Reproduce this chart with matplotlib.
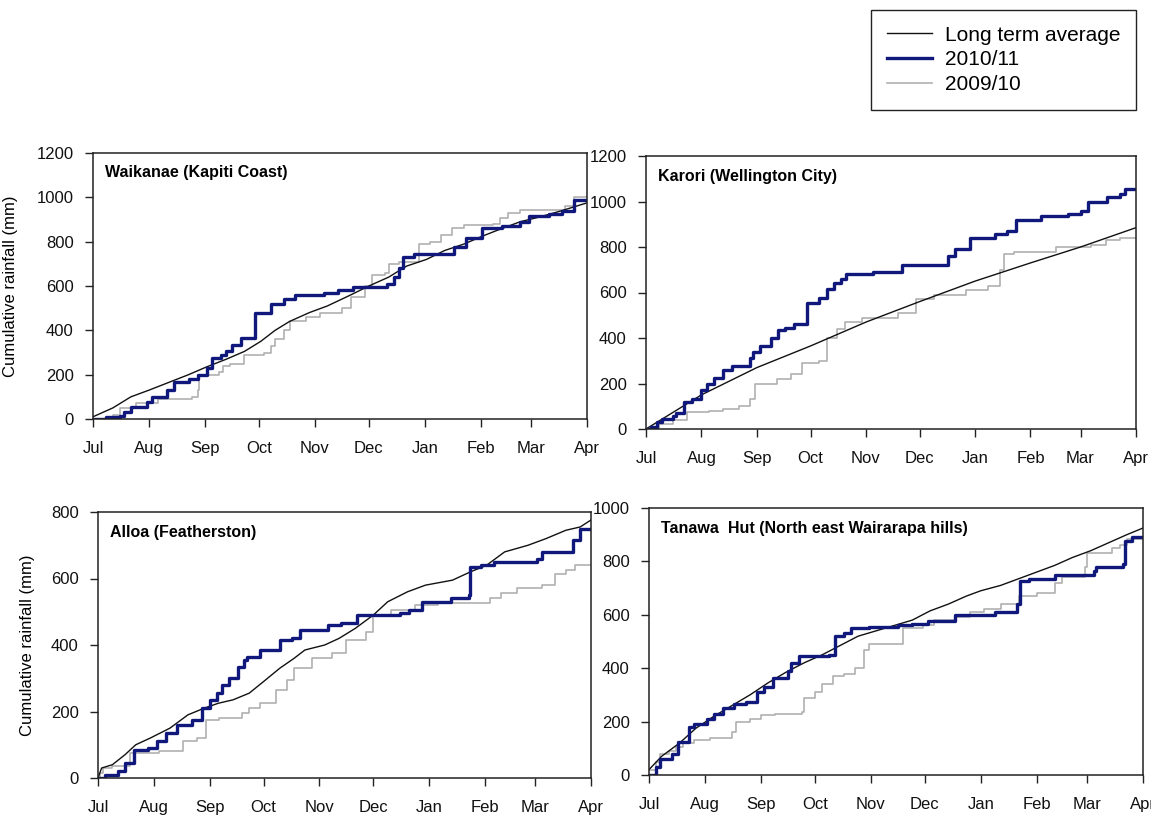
import numpy as np
import matplotlib
matplotlib.use("Agg")
import matplotlib.pyplot as plt

plt.rcParams["font.family"] = ["Liberation Sans Narrow", "Liberation Sans", "DejaVu Sans"]

# Month axis: Jul 1 through Apr 1, x measured in days since Jul 1
MONTHS = ["Jul", "Aug", "Sep", "Oct", "Nov", "Dec", "Jan", "Feb", "Mar", "Apr"]
MONTH_LENGTHS = [31, 31, 30, 31, 30, 31, 31, 28, 31]

# Cumulative rainfall (mm) as (day, mm) pairs
waikanae_avg = [(0, 10), (11, 50), (21, 100), (31, 130), (42, 165), (53, 200), (63, 235), (74, 270),
                (84, 305), (93, 350), (101, 400), (109, 440), (120, 480), (130, 510), (143, 560),
                (153, 600), (164, 640), (174, 690), (185, 720), (195, 760), (206, 790), (216, 825),
                (227, 860), (237, 890), (247, 910), (258, 935), (274, 975)]
waikanae_1011 = [(0, 0), (7, 8), (15, 15), (17, 30), (21, 55), (30, 75), (33, 100), (41, 130),
                 (45, 165), (53, 180), (58, 200), (63, 230), (66, 275), (71, 290), (74, 305),
                 (77, 335), (82, 365), (90, 480), (99, 520), (106, 540), (112, 560), (128, 570),
                 (136, 580), (144, 595), (163, 610), (167, 640), (170, 680), (172, 730), (178, 745),
                 (200, 775), (207, 815), (216, 860), (227, 870), (237, 890), (242, 915), (253, 925),
                 (260, 940), (267, 990), (274, 990)]
waikanae_0910 = [(0, 0), (11, 20), (15, 50), (24, 70), (36, 90), (55, 100), (58, 130), (59, 200),
                 (70, 210), (72, 240), (76, 250), (84, 290), (95, 300), (99, 330), (101, 360),
                 (106, 400), (109, 440), (118, 460), (126, 480), (138, 500), (143, 550), (151, 600),
                 (155, 650), (162, 660), (164, 700), (170, 710), (181, 790), (187, 800), (193, 830),
                 (199, 860), (206, 875), (222, 880), (226, 905), (230, 930), (237, 945), (262, 960),
                 (267, 1000), (274, 1005)]

karori_avg = [(0, 0), (31, 150), (62, 270), (92, 365), (123, 470), (153, 560), (184, 650),
              (215, 730), (243, 800), (274, 885)]
karori_1011 = [(0, 0), (3, 10), (6, 30), (9, 45), (15, 55), (17, 70), (21, 120), (26, 130),
               (31, 170), (34, 200), (38, 225), (43, 260), (48, 275), (58, 310), (60, 340),
               (64, 365), (70, 400), (74, 435), (78, 445), (83, 460), (90, 555), (97, 575),
               (101, 615), (105, 640), (109, 660), (112, 680), (127, 690), (143, 720), (169, 760),
               (173, 790), (181, 840), (195, 855), (202, 870), (207, 920), (221, 935), (236, 945),
               (243, 960), (247, 1000), (258, 1020), (265, 1035), (268, 1055), (274, 1055)]
karori_0910 = [(0, 0), (7, 20), (15, 40), (23, 75), (35, 80), (43, 90), (52, 100), (58, 130),
               (61, 200), (73, 220), (81, 240), (87, 290), (97, 300), (101, 400), (107, 440),
               (111, 470), (121, 490), (141, 510), (151, 570), (161, 590), (179, 610), (191, 630),
               (198, 700), (200, 770), (206, 780), (229, 800), (249, 810), (257, 830), (265, 840),
               (274, 840)]

alloa_avg = [(0, 0), (2, 30), (8, 40), (15, 70), (21, 100), (29, 120), (40, 150), (50, 190),
             (59, 210), (67, 225), (75, 235), (84, 255), (92, 290), (101, 330), (109, 360),
             (115, 385), (126, 400), (134, 420), (143, 450), (153, 490), (161, 530), (172, 560),
             (182, 580), (197, 595), (207, 620), (216, 640), (226, 680), (239, 700), (249, 720),
             (260, 745), (268, 755), (274, 776)]
alloa_1011 = [(0, 0), (4, 10), (11, 20), (15, 45), (20, 85), (28, 90), (33, 110), (38, 135),
              (44, 160), (52, 175), (58, 210), (62, 235), (66, 255), (69, 280), (73, 300),
              (78, 335), (81, 355), (83, 365), (90, 385), (101, 415), (108, 420), (112, 445),
              (128, 460), (135, 465), (144, 490), (168, 495), (173, 505), (180, 530), (196, 540),
              (206, 550), (207, 635), (213, 640), (220, 650), (244, 660), (247, 680), (264, 715),
              (268, 750), (274, 750)]
alloa_0910 = [(0, 0), (1, 15), (3, 30), (8, 35), (18, 75), (34, 80), (47, 110), (55, 120),
              (60, 175), (67, 180), (80, 195), (84, 210), (90, 225), (99, 265), (105, 295),
              (109, 330), (119, 360), (130, 375), (138, 415), (149, 440), (153, 490), (163, 505),
              (176, 520), (189, 525), (218, 540), (224, 555), (233, 570), (247, 580), (254, 615),
              (260, 625), (265, 640), (274, 640)]

tanawa_avg = [(0, 20), (7, 70), (17, 120), (26, 175), (36, 220), (46, 260), (56, 300), (66, 345),
              (76, 385), (86, 420), (96, 450), (106, 485), (116, 520), (126, 540), (136, 560),
              (146, 580), (156, 615), (166, 640), (176, 670), (184, 690), (195, 710), (205, 735),
              (215, 760), (225, 785), (235, 815), (245, 840), (255, 870), (265, 900), (274, 925)]
tanawa_1011 = [(0, 0), (4, 30), (6, 60), (13, 80), (16, 125), (22, 180), (25, 190), (32, 210),
               (36, 230), (41, 250), (47, 265), (54, 275), (60, 310), (64, 330), (69, 365),
               (77, 390), (79, 420), (83, 445), (100, 450), (103, 520), (108, 530), (112, 550),
               (122, 555), (138, 560), (146, 565), (155, 575), (170, 600), (192, 610), (204, 640),
               (206, 725), (211, 735), (225, 750), (247, 765), (248, 780), (263, 790), (264, 875),
               (268, 890), (274, 890)]
tanawa_0910 = [(0, 20), (4, 50), (6, 80), (11, 90), (15, 105), (19, 120), (25, 130), (34, 140),
               (46, 160), (48, 200), (56, 210), (62, 225), (70, 230), (85, 235), (86, 290),
               (92, 310), (96, 340), (102, 370), (108, 380), (114, 400), (119, 470), (122, 490),
               (141, 550), (152, 560), (158, 580), (170, 590), (178, 610), (186, 620), (195, 640),
               (205, 670), (215, 680), (225, 720), (229, 740), (242, 780), (243, 830), (257, 850),
               (261, 860), (265, 885), (274, 890)]

STATIONS = [
    ("Waikanae (Kapiti Coast)", waikanae_avg, waikanae_1011, waikanae_0910, 1200, 200),
    ("Karori (Wellington City)", karori_avg, karori_1011, karori_0910, 1200, 200),
    ("Alloa (Featherston)", alloa_avg, alloa_1011, alloa_0910, 800, 200),
    ("Tanawa  Hut (North east Wairarapa hills)", tanawa_avg, tanawa_1011, tanawa_0910, 1000, 200),
]

COLOR_AVG = "#111111"
COLOR_1011 = "#10187c"
COLOR_0910 = "#b0b0b0"

W, H = 1151, 818
# axes boxes in pixels: left, top, right, bottom
BOXES = [(93, 153, 587, 419), (646, 156, 1136, 429), (98, 512, 591, 778), (649, 508, 1143, 775)]
YLABEL_X = {0: 18, 2: 35}

month_starts = np.concatenate([[0], np.cumsum(MONTH_LENGTHS)])

fig = plt.figure(figsize=(W / 100, H / 100), dpi=100)

handles = None
for i, (name, avg, s1011, s0910, ymax, ystep) in enumerate(STATIONS):
    l, t, r, b = BOXES[i]
    ax = fig.add_axes([l / W, 1 - b / H, (r - l) / W, (b - t) / H])

    d, v = zip(*s0910)
    h3, = ax.step(d, v, where="post", color=COLOR_0910, lw=1.2, label="2009/10")
    d, v = zip(*avg)
    h1, = ax.plot(d, v, color=COLOR_AVG, lw=1.0, label="Long term average")
    d, v = zip(*s1011)
    h2, = ax.step(d, v, where="post", color=COLOR_1011, lw=2.4, label="2010/11")
    if handles is None:
        handles = [h1, h2, h3]

    ax.set_xlim(0, month_starts[-1])
    ax.set_ylim(0, ymax)
    ax.set_xticks(month_starts)
    ax.set_xticklabels(MONTHS)
    ax.set_yticks(np.arange(0, ymax + 1, ystep))
    ax.tick_params(axis="both", direction="out", length=6, width=1.0, labelsize=12,
                   colors="#222222", labelcolor="#111111")
    ax.tick_params(axis="x", pad=10)
    ax.tick_params(axis="y", pad=8)
    for sp in ax.spines.values():
        sp.set_color("#222222")
        sp.set_linewidth(1.1)

    ax.text(0.025, 1 - 20 / (b - t), name, transform=ax.transAxes, fontsize=11.5,
            fontweight="bold", va="center", ha="left")

    if i in YLABEL_X:
        ax.set_ylabel("Cumulative rainfall (mm)", fontsize=12,
                      family=["Liberation Sans Narrow", "Liberation Sans"])
        ax.yaxis.set_label_coords(-(l - YLABEL_X[i]) / (r - l), 0.5)

leg = fig.legend(handles=handles, loc="upper right",
                 bbox_to_anchor=(1136 / W, 1 - 10 / H), borderaxespad=0,
                 fancybox=False, edgecolor="#222222", framealpha=1,
                 prop={"family": "Liberation Sans", "size": 15},
                 handlelength=2.2, handletextpad=0.6, labelspacing=0.28, borderpad=0.75)
leg.get_frame().set_linewidth(1.0)

fig.savefig("out.png", dpi=100)
